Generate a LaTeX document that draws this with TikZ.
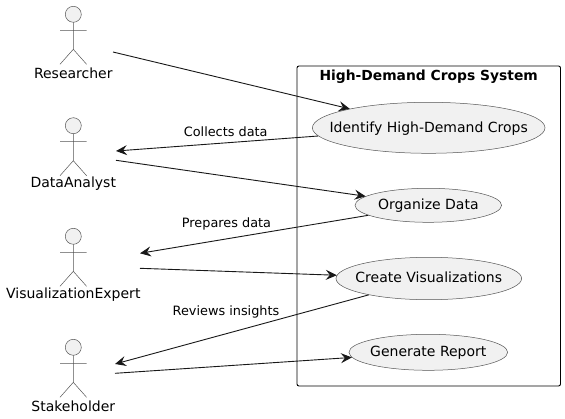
\documentclass[tikz,border=0pt]{standalone}
\usepackage{fontspec}
\setmainfont{DejaVu Sans}
\usetikzlibrary{arrows.meta,shapes.geometric}
\definecolor{ucfill}{HTML}{F1F1F1}
\definecolor{ucline}{HTML}{555555}
\definecolor{lnk}{HTML}{181818}
\newcommand{\uctext}[1]{\makebox[0pt]{\raisebox{-.30em}[0pt][0pt]{#1}}}
\tikzset{
  x=1pt,y=-1pt,
  usecase/.style={ellipse,draw=ucline,fill=ucfill,line width=0.5pt,inner sep=0pt,font=\fontsize{14}{16}\selectfont,text=black},
  actorname/.style={font=\fontsize{14}{16}\selectfont,text=black,inner sep=0pt},
  linklabel/.style={font=\fontsize{12.85}{15}\selectfont,text=black,inner sep=0pt},
  link/.style={draw=lnk,line width=0.9pt,-{Stealth[length=11pt,width=10pt,inset=4pt]}},
  actorline/.style={draw=ucline,line width=0.5pt},
  sysbox/.style={draw=black,line width=0.9pt,rounded corners=2pt},
  actor/.pic={
    \draw[actorline,fill=ucfill] (0,0) circle[radius=8];
    \draw[actorline] (0,8) -- (0,35) (-13.3,16) -- (13.3,16) (-13.3,50) -- (0,35) -- (13.3,50);
  }
}
\begin{document}
\begin{tikzpicture}
\useasboundingbox (0,0) rectangle (565,418);
\fill[white] (0,0) rectangle (565,418);
\draw[sysbox] (297,66) rectangle (560.5,386);
\node[font=\bfseries\fontsize{13.85}{16}\selectfont,inner sep=0pt] (systitle) at (428.7,77) {High-Demand Crops System};

\node[usecase,minimum width=232.6pt,minimum height=51pt] (uc1) at (428.7,127.8) {\uctext{Identify High-Demand Crops}};
\node[usecase,minimum width=146.6pt,minimum height=34pt] (uc2) at (428.3,205.3) {\uctext{Organize Data}};
\node[usecase,minimum width=185.6pt,minimum height=42.4pt] (uc3) at (428.8,278.5) {\uctext{Create Visualizations}};
\node[usecase,minimum width=158.7pt,minimum height=36pt] (uc4) at (428.3,352.3) {\uctext{Generate Report}};

\pic at (73.3,14.3) {actor};
\pic at (73.3,125.7) {actor};
\pic at (73.3,236.3) {actor};
\pic at (73.3,347.3) {actor};
\node[actorname] (researcher) at (73.3,73) {Researcher};
\node[actorname] (analyst) at (73.3,184) {DataAnalyst};
\node[actorname] (expert) at (73.3,295) {VisualizationExpert};
\node[actorname] (stakeholder) at (73.3,406) {Stakeholder};

\coordinate (rOut) at (113,52);
\coordinate (aIn) at (116,151);
\coordinate (aOut) at (116,160.3);
\coordinate (eIn) at (140,253.3);
\coordinate (eOut) at (140,268.3);
\coordinate (sIn) at (115,364);
\coordinate (sOut) at (115,373.3);

\draw[link] (rOut) -- (uc1);
\draw[link] (uc1) -- (aIn);
\draw[link] (aOut) -- (uc2);
\draw[link] (uc2) -- (eIn);
\draw[link] (eOut) -- (uc3);
\draw[link] (uc3) -- (sIn);
\draw[link] (sOut) -- (uc4);

\node[linklabel] (l1) at (225.7,131.5) {Collects data};
\node[linklabel] (l2) at (226.5,224) {Prepares data};
\node[linklabel] (l3) at (226,312) {Reviews insights};
\end{tikzpicture}
\end{document}
